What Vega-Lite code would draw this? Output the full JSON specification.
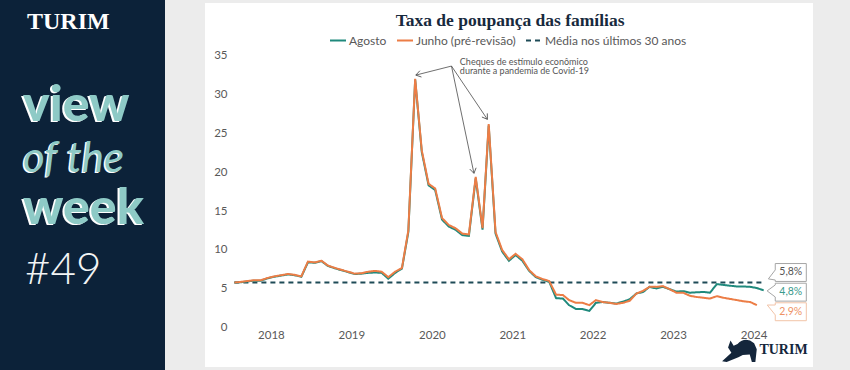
{
 "$schema": "https://vega.github.io/schema/vega-lite/v6.json",
 "background": "#ececec",
 "padding": {"left": 0, "top": 0, "right": 37, "bottom": 0},
 "spacing": 40,
 "center": true,
 "bounds": "flush",
 "config": {"view": {"stroke": null}},
 "resolve": {"scale": {"x": "independent", "y": "independent"}},
 "datasets": {
  "saving": [
   {"d":"2018-01","A":5.8,"J":5.8,"M":5.8},
   {"d":"2018-02","A":5.85,"J":5.9,"M":5.8},
   {"d":"2018-03","A":5.95,"J":6.0,"M":5.8},
   {"d":"2018-04","A":6.05,"J":6.1,"M":5.8},
   {"d":"2018-05","A":6.05,"J":6.1,"M":5.8},
   {"d":"2018-06","A":6.35,"J":6.4,"M":5.8},
   {"d":"2018-07","A":6.55,"J":6.6,"M":5.8},
   {"d":"2018-08","A":6.7,"J":6.75,"M":5.8},
   {"d":"2018-09","A":6.85,"J":6.9,"M":5.8},
   {"d":"2018-10","A":6.75,"J":6.8,"M":5.8},
   {"d":"2018-11","A":6.55,"J":6.6,"M":5.8},
   {"d":"2018-12","A":8.4,"J":8.5,"M":5.8},
   {"d":"2019-01","A":8.35,"J":8.4,"M":5.8},
   {"d":"2019-02","A":8.55,"J":8.6,"M":5.8},
   {"d":"2019-03","A":7.95,"J":8.0,"M":5.8},
   {"d":"2019-04","A":7.65,"J":7.7,"M":5.8},
   {"d":"2019-05","A":7.4,"J":7.45,"M":5.8},
   {"d":"2019-06","A":7.15,"J":7.2,"M":5.8},
   {"d":"2019-07","A":6.9,"J":6.95,"M":5.8},
   {"d":"2019-08","A":6.95,"J":7.0,"M":5.8},
   {"d":"2019-09","A":7.05,"J":7.2,"M":5.8},
   {"d":"2019-10","A":7.1,"J":7.3,"M":5.8},
   {"d":"2019-11","A":7.05,"J":7.2,"M":5.8},
   {"d":"2019-12","A":6.3,"J":6.5,"M":5.8},
   {"d":"2020-01","A":7.05,"J":7.2,"M":5.8},
   {"d":"2020-02","A":7.6,"J":7.7,"M":5.8},
   {"d":"2020-03","A":12.3,"J":12.5,"M":5.8},
   {"d":"2020-04","A":31.9,"J":32.0,"M":5.8},
   {"d":"2020-05","A":22.6,"J":22.8,"M":5.8},
   {"d":"2020-06","A":18.3,"J":18.5,"M":5.8},
   {"d":"2020-07","A":17.7,"J":17.9,"M":5.8},
   {"d":"2020-08","A":13.9,"J":14.1,"M":5.8},
   {"d":"2020-09","A":13.0,"J":13.2,"M":5.8},
   {"d":"2020-10","A":12.6,"J":12.8,"M":5.8},
   {"d":"2020-11","A":11.9,"J":12.1,"M":5.8},
   {"d":"2020-12","A":11.8,"J":12.0,"M":5.8},
   {"d":"2021-01","A":19.2,"J":19.4,"M":5.8},
   {"d":"2021-02","A":12.6,"J":12.8,"M":5.8},
   {"d":"2021-03","A":26.0,"J":26.2,"M":5.8},
   {"d":"2021-04","A":12.1,"J":12.3,"M":5.8},
   {"d":"2021-05","A":9.8,"J":10.0,"M":5.8},
   {"d":"2021-06","A":8.6,"J":8.8,"M":5.8},
   {"d":"2021-07","A":9.35,"J":9.5,"M":5.8},
   {"d":"2021-08","A":8.6,"J":8.8,"M":5.8},
   {"d":"2021-09","A":7.3,"J":7.4,"M":5.8},
   {"d":"2021-10","A":6.5,"J":6.6,"M":5.8},
   {"d":"2021-11","A":6.15,"J":6.25,"M":5.8},
   {"d":"2021-12","A":5.9,"J":6.0,"M":5.8},
   {"d":"2022-01","A":3.8,"J":4.25,"M":5.8},
   {"d":"2022-02","A":3.75,"J":4.2,"M":5.8},
   {"d":"2022-03","A":2.9,"J":3.55,"M":5.8},
   {"d":"2022-04","A":2.4,"J":3.2,"M":5.8},
   {"d":"2022-05","A":2.4,"J":3.2,"M":5.8},
   {"d":"2022-06","A":2.15,"J":2.9,"M":5.8},
   {"d":"2022-07","A":3.2,"J":3.55,"M":5.8},
   {"d":"2022-08","A":3.3,"J":3.3,"M":5.8},
   {"d":"2022-09","A":3.2,"J":3.2,"M":5.8},
   {"d":"2022-10","A":3.1,"J":3.05,"M":5.8},
   {"d":"2022-11","A":3.35,"J":3.2,"M":5.8},
   {"d":"2022-12","A":3.65,"J":3.45,"M":5.8},
   {"d":"2023-01","A":4.4,"J":4.4,"M":5.8},
   {"d":"2023-02","A":4.6,"J":4.75,"M":5.8},
   {"d":"2023-03","A":5.25,"J":5.25,"M":5.8},
   {"d":"2023-04","A":5.05,"J":5.25,"M":5.8},
   {"d":"2023-05","A":5.25,"J":5.35,"M":5.8},
   {"d":"2023-06","A":4.95,"J":4.95,"M":5.8},
   {"d":"2023-07","A":4.65,"J":4.5,"M":5.8},
   {"d":"2023-08","A":4.7,"J":4.5,"M":5.8},
   {"d":"2023-09","A":4.5,"J":4.1,"M":5.8},
   {"d":"2023-10","A":4.55,"J":3.95,"M":5.8},
   {"d":"2023-11","A":4.6,"J":3.85,"M":5.8},
   {"d":"2023-12","A":4.5,"J":3.75,"M":5.8},
   {"d":"2024-01","A":5.6,"J":4.05,"M":5.8},
   {"d":"2024-02","A":5.5,"J":3.85,"M":5.8},
   {"d":"2024-03","A":5.4,"J":3.7,"M":5.8},
   {"d":"2024-04","A":5.3,"J":3.55,"M":5.8},
   {"d":"2024-05","A":5.3,"J":3.4,"M":5.8},
   {"d":"2024-06","A":5.25,"J":3.3,"M":5.8},
   {"d":"2024-07","A":5.1,"J":2.9,"M":5.8},
   {"d":"2024-08","A":4.8,"M":5.8}
  ],
  "arrows": [
   {"n":1,"x0":"2020-09-13","y0":33.64,"x1":"2020-04-04","y1":32.48},
   {"n":2,"x0":"2020-09-13","y0":33.64,"x1":"2020-12-24","y1":19.85},
   {"n":3,"x0":"2020-09-13","y0":33.64,"x1":"2021-02-23","y1":26.79}
  ],
  "callouts": [
   {"k":"M","label":"5,8%","v":5.8},
   {"k":"A","label":"4,8%","v":4.8},
   {"k":"J","label":"2,9%","v":2.9}
  ]
 },
 "hconcat": [
  {
   "width": 165,
   "height": 370,
   "view": {"fill": "#0c2239", "stroke": null},
   "data": {"values": [
    {"t":"TURIM","row":1},{"t":"view","row":2},{"t":"of the","row":3},{"t":"week","row":4},{"t":"#49","row":5}
   ]},
   "encoding": {
    "x": {"datum": 0, "type": "quantitative", "scale": {"domain": [0, 1], "range": [23, 100]}, "axis": null},
    "y": {"field": "row", "type": "quantitative", "scale": {"domain": [1, 2, 3, 4, 5], "range": [29, 121, 172, 224, 284]}, "axis": null},
    "text": {"field": "t"}
   },
   "layer": [
    {"transform": [{"filter": "datum.row == 1"}],
     "mark": {"type": "text", "align": "left", "baseline": "alphabetic", "font": "Liberation Serif", "fontWeight": "bold", "fontSize": 24, "color": "#ffffff", "xOffset": 4}},
    {"transform": [{"filter": "datum.row == 2 || datum.row == 4"}],
     "mark": {"type": "text", "align": "left", "baseline": "alphabetic", "font": "Lato", "fontWeight": 900, "fontSize": 50, "color": "#ffffff", "xOffset": -2, "yOffset": 1}},
    {"transform": [{"filter": "datum.row == 2 || datum.row == 4"}],
     "mark": {"type": "text", "align": "left", "baseline": "alphabetic", "font": "Lato", "fontWeight": 900, "fontSize": 50, "color": "#8ecac6"}},
    {"transform": [{"filter": "datum.row == 3"}],
     "mark": {"type": "text", "align": "left", "baseline": "alphabetic", "font": "Lato", "fontStyle": "italic", "fontWeight": 400, "fontSize": 42, "color": "#ffffff", "xOffset": -1.5, "yOffset": 1}},
    {"transform": [{"filter": "datum.row == 3"}],
     "mark": {"type": "text", "align": "left", "baseline": "alphabetic", "font": "Lato", "fontStyle": "italic", "fontWeight": 400, "fontSize": 42, "color": "#8ecac6"}},
    {"transform": [{"filter": "datum.row == 5"}],
     "mark": {"type": "text", "align": "left", "baseline": "alphabetic", "font": "Lato", "fontWeight": 300, "fontSize": 44, "color": "#f2f4f5", "xOffset": 2}}
   ]
  },
  {
   "width": 608,
   "height": 364,
   "view": {"fill": "#ffffff", "stroke": null},
   "layer": [
    {
     "data": {"name": "saving"},
     "transform": [{"fold": ["M", "A", "J"], "as": ["k", "v"]}],
     "mark": {"type": "line", "strokeWidth": 2},
     "encoding": {
      "x": {"field": "d", "type": "temporal",
            "scale": {"domain": ["2018-01-01", "2024-08-01"], "range": [29.4, 558.7]},
            "axis": {"orient": "bottom", "offset": -32, "ticks": false, "domain": false, "grid": false, "labelPadding": 0, "labelBaseline": "middle", "labelFlush": false, "labelOverlap": false,
                     "values": [{"year":2018,"month":6,"date":16},{"year":2019,"month":6,"date":16},{"year":2020,"month":6,"date":16},{"year":2021,"month":6,"date":16},{"year":2022,"month":6,"date":16},{"year":2023,"month":6,"date":16},{"year":2024,"month":6,"date":16}],
                     "format": "%Y", "labelFont": "Lato", "labelFontSize": 11.5, "labelColor": "#595959", "title": null}},
      "y": {"field": "v", "type": "quantitative",
            "scale": {"domain": [0, 35], "range": [324.7, 52.5], "nice": false, "zero": false},
            "axis": {"orient": "left", "offset": -22, "ticks": false, "domain": false, "grid": false, "labelPadding": 0, "values": [0, 5, 10, 15, 20, 25, 30, 35], "labelFont": "Lato", "labelFontSize": 11.5, "labelColor": "#595959", "title": null}},
      "color": {"field": "k", "type": "nominal",
                "scale": {"domain": ["A", "J", "M"], "range": ["#1f897c", "#ec7d46", "#1e4b57"]},
                "legend": {"title": null, "orient": "none", "legendX": 329, "legendY": 31.5, "direction": "horizontal", "symbolType": "stroke", "symbolSize": 256, "symbolStrokeWidth": 2, "labelFont": "Lato", "labelFontSize": 12, "labelColor": "#595959", "labelOffset": 2, "columnPadding": 6,
                           "labelExpr": "datum.label == 'A' ? 'Agosto' : datum.label == 'J' ? 'Junho (pré-revisão)' : 'Média nos últimos 30 anos'"}},
      "strokeDash": {"field": "k", "type": "nominal",
                "scale": {"domain": ["A", "J", "M"], "range": [[1, 0], [1, 0], [5, 4]]},
                "legend": {"title": null, "orient": "none", "legendX": 329, "legendY": 31.5, "direction": "horizontal", "symbolType": "stroke", "symbolSize": 256, "symbolStrokeWidth": 2, "labelFont": "Lato", "labelFontSize": 12, "labelColor": "#595959", "labelOffset": 2, "columnPadding": 6,
                           "labelExpr": "datum.label == 'A' ? 'Agosto' : datum.label == 'J' ? 'Junho (pré-revisão)' : 'Média nos últimos 30 anos'"}}
     }
    },
    {
     "data": {"values": [{}]},
     "mark": {"type": "text", "align": "center", "baseline": "alphabetic", "font": "Liberation Serif", "fontWeight": "bold", "fontSize": 17.5, "color": "#17293d", "text": "Taxa de poupança das famílias"},
     "encoding": {
      "x": {"datum": {"year": 2021, "month": 6, "date": 6}, "type": "temporal"},
      "y": {"datum": 38.75, "type": "quantitative"}
     }
    },
    {
     "data": {"name": "arrows"},
     "mark": {"type": "rule", "color": "#4a4a4a", "strokeWidth": 0.8},
     "encoding": {
      "x": {"field": "x0", "type": "temporal"},
      "y": {"field": "y0", "type": "quantitative"},
      "x2": {"field": "x1"},
      "y2": {"field": "y1"}
     }
    },
    {
     "data": {"name": "arrows"},
     "mark": {"type": "point", "shape": "M-1,-0.65L0,0L-1,0.65", "size": 100, "filled": false, "stroke": "#4a4a4a", "strokeWidth": 0.8, "opacity": 1},
     "encoding": {
      "x": {"field": "x1", "type": "temporal"},
      "y": {"field": "y1", "type": "quantitative"},
      "angle": {"field": "n", "type": "quantitative", "scale": {"domain": [1, 2, 3], "range": [165.85, 78.26, 56.26]}, "legend": null}
     }
    },
    {
     "data": {"values": [{}]},
     "mark": {"type": "text", "align": "left", "baseline": "middle", "font": "Lato", "fontSize": 9, "lineHeight": 8.5, "color": "#555555", "text": ["Cheques de estímulo econômico", "durante a pandemia de Covid-19"]},
     "encoding": {
      "x": {"datum": {"year": 2020, "month": 10, "date": 21}, "type": "temporal"},
      "y": {"datum": 34.15, "type": "quantitative"}
     }
    },
    {
     "data": {"name": "callouts"},
     "transform": [{"filter": "datum.k == 'M'"}],
     "encoding": {
      "x": {"datum": {"year": 2024, "month": 12, "date": 2}, "type": "temporal"},
      "y": {"field": "v", "type": "quantitative"}
     },
     "layer": [
      {"mark": {"type": "point", "shape": "M-0.97,-0.56L0.97,-0.56L0.97,0.56L-0.97,0.56L-0.97,0.47L-1.4,0.4L-0.97,-0.16Z", "size": 1024, "filled": true, "fill": "#ffffff", "stroke": "#a6a6a6", "strokeWidth": 1, "opacity": 1, "yOffset": -10.1}},
      {"mark": {"type": "text", "font": "Lato", "fontSize": 10.5, "color": "#555555", "yOffset": -10.1}, "encoding": {"text": {"field": "label"}}}
     ]
    },
    {
     "data": {"name": "callouts"},
     "transform": [{"filter": "datum.k == 'A'"}],
     "encoding": {
      "x": {"datum": {"year": 2024, "month": 12, "date": 2}, "type": "temporal"},
      "y": {"field": "v", "type": "quantitative"}
     },
     "layer": [
      {"mark": {"type": "point", "shape": "M-0.97,-0.56L0.97,-0.56L0.97,0.56L-0.97,0.56L-0.97,0.3L-1.48,-0.08L-0.97,-0.45Z", "size": 1024, "filled": true, "fill": "#ffffff", "stroke": "#a6a6a6", "strokeWidth": 1, "opacity": 1, "yOffset": 1.8}},
      {"mark": {"type": "text", "font": "Lato", "fontSize": 10.5, "color": "#3a9a8c", "yOffset": 1.8}, "encoding": {"text": {"field": "label"}}}
     ]
    },
    {
     "data": {"name": "callouts"},
     "transform": [{"filter": "datum.k == 'J'"}],
     "encoding": {
      "x": {"datum": {"year": 2024, "month": 12, "date": 2}, "type": "temporal"},
      "y": {"field": "v", "type": "quantitative"}
     },
     "layer": [
      {"mark": {"type": "point", "shape": "M-0.97,-0.56L0.97,-0.56L0.97,0.56L-0.97,0.56L-0.97,0.2L-1.47,-0.42L-0.97,-0.42Z", "size": 1024, "filled": true, "fill": "#ffffff", "stroke": "#f2c4a8", "strokeWidth": 1, "opacity": 1, "yOffset": 6.6}},
      {"mark": {"type": "text", "font": "Lato", "fontSize": 10.5, "color": "#ee9264", "yOffset": 6.6}, "encoding": {"text": {"field": "label"}}}
     ]
    },
    {
     "data": {"values": [{}]},
     "mark": {"type": "text", "text": "TURIM", "font": "Liberation Serif", "fontWeight": "bold", "fontSize": 14, "color": "#14263b"},
     "encoding": {
      "x": {"datum": {"year": 2024, "month": 10, "date": 30}, "type": "temporal"},
      "y": {"datum": -2.87, "type": "quantitative"}
     }
    },
    {
     "data": {"values": [{}]},
     "mark": {"type": "point", "shape": "M-0.98,0.58L-0.45,0.1L-0.64,-0.2L-0.5,-0.6L-0.32,-0.3L-0.1,-0.4Q0.35,-0.85 0.85,-0.45L1.0,-0.1L0.92,0.62L0.72,0.62L0.6,0.2L0.2,0.22L-0.05,0.35L-0.72,0.62Z", "size": 1225, "filled": true, "fill": "#14263b", "stroke": null, "opacity": 1},
     "encoding": {
      "x": {"datum": {"year": 2024, "month": 4, "date": 12}, "type": "temporal"},
      "y": {"datum": -3.0, "type": "quantitative"}
     }
    }
   ]
  }
 ]
}
